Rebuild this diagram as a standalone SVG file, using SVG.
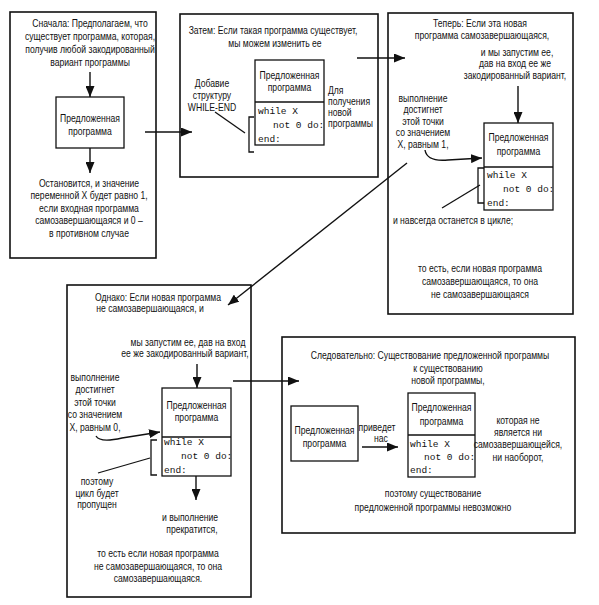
<svg xmlns="http://www.w3.org/2000/svg" width="599" height="605" viewBox="0 0 599 605">
<defs>
<style>
.t{font-family:"Liberation Sans",Arial,sans-serif;font-size:10.5px;fill:#111;text-anchor:middle;dominant-baseline:central}
.l{text-anchor:start}
.c{font-family:"Liberation Mono","DejaVu Sans Mono",monospace;font-size:9.5px;fill:#111;text-anchor:start;dominant-baseline:central}
.panel{fill:#fff;stroke:#111;stroke-width:1.6}
.box{fill:#fff;stroke:#111;stroke-width:1.3}
.ln{fill:none;stroke:#111;stroke-width:1.3}
.ar{fill:none;stroke:#111;stroke-width:1.4;marker-end:url(#ah)}
</style>
<marker id="ah" markerUnits="userSpaceOnUse" markerWidth="11" markerHeight="9" refX="11" refY="4.5" orient="auto">
<path d="M0,0 L11,4.5 L0,9 Z" fill="#111"/>
</marker>
</defs>
<rect width="599" height="605" fill="#fff"/>

<g id="panel1">
<rect class="panel" x="10" y="12" width="146" height="246"/>
<rect class="box" x="56" y="97" width="68" height="51"/>
<g transform="scale(0.82,1)">
<text class="t" x="109.76" y="23">Сначала: Предполагаем, что</text>
<text class="t" x="109.76" y="36">существует программа, которая,</text>
<text class="t" x="109.76" y="49">получив любой закодированный</text>
<text class="t" x="109.76" y="62">вариант программы</text>
<g id="p1-prog">
<text class="t" x="109.76" y="118">Предложенная</text>
<text class="t" x="109.76" y="131">программа</text>
</g>
<text class="t" x="108.54" y="183">Остановится, и значение</text>
<text class="t" x="108.54" y="195.5">переменной X будет равно 1,</text>
<text class="t" x="108.54" y="208">если входная программа</text>
<text class="t" x="108.54" y="220.5">самозавершающаяся и 0 –</text>
<text class="t" x="108.54" y="233">в противном случае</text>
</g>
</g>

<g id="panel2">
<rect class="panel" x="180" y="14" width="198" height="163"/>
<g id="p2-prog">
<rect class="box" x="255" y="60" width="69" height="85"/>
<line class="ln" x1="255" y1="102" x2="324" y2="102"/>
<text class="c" x="258" y="111">while X</text>
<text class="c" x="273" y="125">not 0 do:</text>
<text class="c" x="258" y="139">end:</text>
</g>
<path class="ln" d="M254,117 L249,117 L249,152 L254,152"/>
<g transform="scale(0.82,1)">
<text class="t" x="332.93" y="30">Затем: Если такая программа существует,</text>
<text class="t" x="335.37" y="43">мы можем изменить ее</text>
<text class="t" x="353.05" y="75">Предложенная</text>
<text class="t" x="353.05" y="87">программа</text>
<text class="t" x="258.54" y="83">Добавие</text>
<text class="t" x="258.54" y="95">структуру</text>
<text class="t" x="258.54" y="107">WHILE-END</text>
<text class="t l" x="400" y="90">Для</text>
<text class="t l" x="400" y="101">получения</text>
<text class="t l" x="400" y="112">новой</text>
<text class="t l" x="400" y="123">программы</text>
</g>
</g>

<g id="panel3">
<rect class="panel" x="388" y="13" width="185" height="301"/>
<g id="p3-prog">
<rect class="box" x="484" y="123" width="69" height="87"/>
<line class="ln" x1="484" y1="167" x2="553" y2="167"/>
<text class="c" x="487" y="175">while X</text>
<text class="c" x="503" y="189">not 0 do:</text>
<text class="c" x="487" y="203">end:</text>
</g>
<path class="ln" d="M484,168 L478,168 L478,203 L484,203"/>
<g transform="scale(0.82,1)">
<text class="t" x="585.37" y="23">Теперь: Если эта новая</text>
<text class="t" x="587.8" y="35">программа самозавершающаяся,</text>
<text class="t" x="630.49" y="52">и мы запустим ее,</text>
<text class="t" x="628.05" y="63">дав на вход ее же</text>
<text class="t" x="628.05" y="75">закодированный вариант,</text>
<text class="t" x="632.32" y="137">Предложенная</text>
<text class="t" x="632.32" y="151">программа</text>
<text class="t" x="515.85" y="98">выполнение</text>
<text class="t" x="515.85" y="109.5">достигнет</text>
<text class="t" x="515.85" y="121">этой точки</text>
<text class="t" x="515.85" y="132.5">со значением</text>
<text class="t" x="515.85" y="144">X, равным 1,</text>
<text class="t" x="552.44" y="220">и навсегда останется в цикле;</text>
<text class="t" x="585.37" y="268">то есть, если новая программа</text>
<text class="t" x="585.37" y="281">самозавершающаяся, то она</text>
<text class="t" x="585.37" y="294">не самозавершающаяся</text>
</g>
</g>

<g id="panel4">
<rect class="panel" x="67" y="285" width="184" height="312"/>
<g id="p4-prog">
<rect class="box" x="162" y="388" width="69" height="88"/>
<line class="ln" x1="162" y1="437" x2="231" y2="437"/>
<text class="c" x="164" y="442">while X</text>
<text class="c" x="181" y="456">not 0 do:</text>
<text class="c" x="164" y="470">end:</text>
</g>
<path class="ln" d="M157,440 L151,440 L151,475 L157,475"/>
<g transform="scale(0.82,1)">
<text class="t" x="192.68" y="297">Однако: Если новая программа</text>
<text class="t" x="182.93" y="308">не самозавершающаяся, и</text>
<text class="t" x="229.27" y="342">мы запустим ее, дав на вход</text>
<text class="t" x="225.61" y="353">ее же закодированный вариант,</text>
<text class="t" x="239.63" y="405">Предложенная</text>
<text class="t" x="239.63" y="417">программа</text>
<text class="t" x="115.85" y="377">выполнение</text>
<text class="t" x="115.85" y="389.5">достигнет</text>
<text class="t" x="115.85" y="402">этой точки</text>
<text class="t" x="115.85" y="414.5">со значением</text>
<text class="t" x="115.85" y="427">X, равным 0,</text>
<text class="t" x="118.29" y="481">поэтому</text>
<text class="t" x="118.29" y="493">цикл будет</text>
<text class="t" x="118.29" y="504">пропущен</text>
<text class="t" x="231.71" y="517">и выполнение</text>
<text class="t" x="234.15" y="529">прекратится,</text>
<text class="t" x="192.68" y="553">то есть если новая программа</text>
<text class="t" x="192.68" y="566">не самозавершающаяся, то она</text>
<text class="t" x="192.68" y="578">самозавершающаяся.</text>
</g>
</g>

<g id="panel5">
<rect class="panel" x="282" y="337" width="293" height="196"/>
<g id="p5-prog-a">
<rect class="box" x="291" y="406" width="67" height="55"/>
</g>
<g id="p5-prog-b">
<rect class="box" x="408" y="393" width="67" height="84"/>
<line class="ln" x1="408" y1="435" x2="475" y2="435"/>
<text class="c" x="410" y="444">while X</text>
<text class="c" x="424" y="457">not 0 do:</text>
<text class="c" x="410" y="470">end:</text>
</g>
<g transform="scale(0.82,1)">
<text class="t" x="524.39" y="355">Следовательно: Существование предложенной программы</text>
<text class="t" x="546.34" y="368">к существованию</text>
<text class="t" x="546.34" y="380">новой программы,</text>
<text class="t" x="395.73" y="430">Предложенная</text>
<text class="t" x="395.73" y="443">программа</text>
<text class="t" x="459.76" y="427">приведет</text>
<text class="t" x="464.63" y="438">нас</text>
<text class="t" x="538.41" y="407">Предложенная</text>
<text class="t" x="538.41" y="421">программа</text>
<text class="t" x="631.71" y="420">которая не</text>
<text class="t" x="631.71" y="432">является ни</text>
<text class="t" x="631.71" y="444">самозавершающейся,</text>
<text class="t" x="631.71" y="457">ни наоборот,</text>
<text class="t" x="528.05" y="493">поэтому существование</text>
<text class="t" x="528.05" y="507">предложенной программы невозможно</text>
</g>
</g>

<g id="connectors">
<path class="ar" d="M90,72 L90,97"/>
<path class="ar" d="M90,148 L90,173"/>
<path class="ar" d="M145,132 L192,132"/>
<path class="ln" d="M215,112 L245,133"/>
<path class="ar" d="M357,58 L405,58"/>
<path class="ar" d="M518,86 L518,123"/>
<path class="ar" d="M425,150 Q427,162 448,160 L482,158"/>
<path class="ln" d="M480,185 L442,208"/>
<path class="ar" d="M407,163 L228,305"/>
<path class="ar" d="M197,364 L197,388"/>
<path class="ar" d="M96,436 Q100,443 122,438 L160,432"/>
<path class="ln" d="M150,458 L98,473"/>
<path class="ar" d="M196,476 L196,500"/>
<path class="ar" d="M233,381 L299,381"/>
<path class="ar" d="M362,447 L398,447"/>
</g>
</svg>
